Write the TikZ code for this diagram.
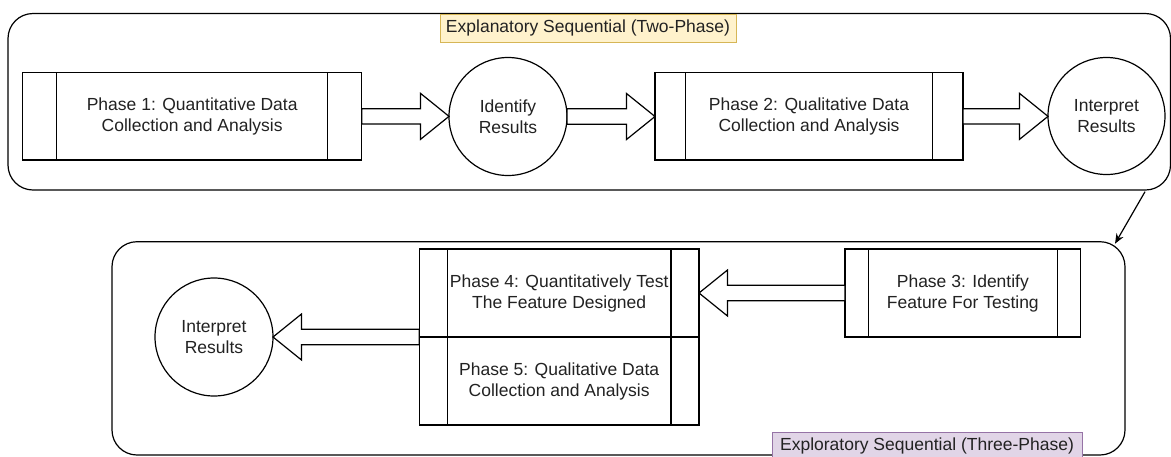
\documentclass[tikz,border=0pt]{standalone}
\usepackage{fontspec}
\setmainfont{Liberation Sans}
\usetikzlibrary{calc,arrows.meta}
\definecolor{yelfill}{HTML}{FFF2CC}
\definecolor{yeldraw}{HTML}{D6B656}
\definecolor{purfill}{HTML}{E1D5E7}
\definecolor{purdraw}{HTML}{9673A6}
\definecolor{ink}{HTML}{222222}
\tikzset{
  base/.style={line width=1.2pt, draw=black, text=ink, font=\fontsize{17.5}{21}\selectfont,
    align=center, inner sep=0pt, outer sep=0pt},
  proc/.style={base, rectangle, fill=white, path picture={
    \draw[line width=1.2pt]
      ($(path picture bounding box.north west)!0.1!(path picture bounding box.north east)$) --
      ($(path picture bounding box.south west)!0.1!(path picture bounding box.south east)$);
    \draw[line width=1.2pt]
      ($(path picture bounding box.north west)!0.9!(path picture bounding box.north east)$) --
      ($(path picture bounding box.south west)!0.9!(path picture bounding box.south east)$);}},
  circ/.style={base, circle, fill=white},
  container/.style={base, rectangle, rounded corners=25pt},
  tag/.style={base, rectangle, line width=1pt},
  barrow/.style={line width=1.2pt, draw=black, fill=white, line join=miter},
  conn/.style={line width=1.2pt, draw=black, -{Stealth[length=10pt,width=8pt]}}
}
\newcommand{\blockarrow}[2]{%
  \draw[barrow] let \p1=(#1), \p2=(#2), \n1={ifthenelse(\x2>\x1,1,-1)} in
    (\x1,{\y1+7.7pt}) -- ({\x2-(\n1)*28.5pt},{\y1+7.7pt}) -- ({\x2-(\n1)*28.5pt},{\y1+23pt})
    -- (\x2,\y1) -- ({\x2-(\n1)*28.5pt},{\y1-23pt}) -- ({\x2-(\n1)*28.5pt},{\y1-7.7pt})
    -- (\x1,{\y1-7.7pt}) -- cycle;}
\begin{document}
\begin{tikzpicture}[x=1pt,y=-1pt]
\useasboundingbox (0,0) rectangle (1171,456);
% containers
\node[container, minimum width=1162.5pt, minimum height=176.5pt] (c1) at (589.25,101.75) {};
\node[container, minimum width=1013pt, minimum height=213.3pt] (c2) at (618.5,348.35) {};
% labels
\node[tag, fill=yelfill, draw=yeldraw, minimum width=296pt, minimum height=28pt] (lab1) at (588,28) {Explanatory Sequential (Two-Phase)};
\node[tag, fill=purfill, draw=purdraw, minimum width=310pt, minimum height=27pt] (lab2) at (927,445.5) {Exploratory Sequential (Three-Phase)};
% top row
\node[proc, minimum width=339pt, minimum height=87.3pt] (p1) at (192.2,116.35) {Phase 1: Quantitative Data\\Collection and Analysis};
\node[circ, minimum size=118pt] (idr) at (508,116.5) {Identify\\Results};
\node[proc, minimum width=308pt, minimum height=87.3pt] (p2) at (809,116.35) {Phase 2: Qualitative Data\\Collection and Analysis};
\node[circ, minimum size=117pt] (ir1) at (1106.5,116) {Interpret\\Results};
% bottom row
\node[proc, minimum width=235.7pt, minimum height=88pt] (p3) at (962.85,293) {Phase 3: Identify\\Feature For Testing};
\node[proc, minimum width=279.7pt, minimum height=88pt] (p4) at (559.15,293) {Phase 4: Quantitatively Test\\The Feature Designed};
\node[proc, minimum width=279.7pt, minimum height=88pt] (p5) at (559.15,381) {Phase 5: Qualitative Data\\Collection and Analysis};
\node[circ, minimum size=118pt] (ir2) at (214,337) {Interpret\\Results};
% block arrows
\blockarrow{p1.east}{idr.west}
\blockarrow{idr.east}{p2.west}
\blockarrow{p2.east}{ir1.west}
\blockarrow{p3.west}{p4.east}
\blockarrow{p4.south west}{ir2.east}
% connector between phases
\draw[conn] ([xshift=-25.5pt,yshift=-1.7pt]c1.south east) -- ([xshift=-10pt,yshift=-2pt]c2.north east);
\end{tikzpicture}
\end{document}
